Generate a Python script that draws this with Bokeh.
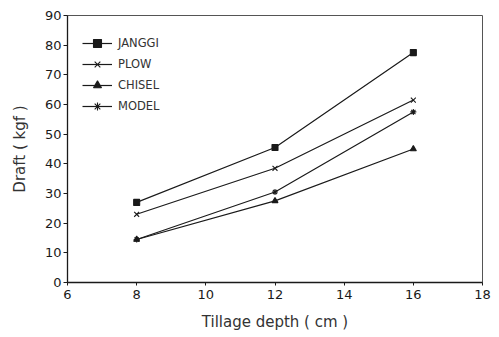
from bokeh.plotting import figure
from bokeh.models import Legend, LegendItem, Range1d, FixedTicker
from bokeh.embed import file_html
from bokeh.resources import INLINE

depth = [8, 12, 16]
janggi = [27, 45.5, 77.5]
plow = [23, 38.5, 61.5]
chisel = [14.5, 27.5, 45]
model = [14.5, 30.5, 57.5]

x_ticks = [6, 8, 10, 12, 14, 16, 18]
y_ticks = [0, 10, 20, 30, 40, 50, 60, 70, 80, 90]

FONT = "DejaVu Sans"
INK = "#1a1a1a"

p = figure(width=499, height=337, output_backend="svg", toolbar_location=None,
           x_range=Range1d(6, 18), y_range=Range1d(0, 90),
           min_border_left=67, min_border_right=17, min_border_top=15, min_border_bottom=55)
p.background_fill_color = "white"
p.border_fill_color = "white"
p.xgrid.visible = False
p.ygrid.visible = False
p.outline_line_color = "#555555"
p.outline_line_width = 1

for ax in (p.xaxis[0], p.yaxis[0]):
    ax.axis_line_color = INK
    ax.axis_line_width = 1.3
    ax.major_tick_line_color = INK
    ax.minor_tick_line_color = None
    ax.major_label_text_font = FONT
    ax.major_label_text_font_size = "13px"
    ax.major_label_text_color = INK
    ax.axis_label_text_font = FONT
    ax.axis_label_text_font_size = "15px"
    ax.axis_label_text_font_style = "normal"
    ax.axis_label_text_color = "#333333"

p.xaxis.ticker = FixedTicker(ticks=x_ticks)
p.yaxis.ticker = FixedTicker(ticks=y_ticks)
p.xaxis.major_tick_out = 3
p.xaxis.major_tick_in = 0
p.yaxis.major_tick_out = 4
p.yaxis.major_tick_in = 0
p.xaxis.major_label_standoff = 4
p.yaxis.major_label_standoff = 2
p.xaxis.axis_label = "Tillage depth ( cm )"
p.yaxis.axis_label = "Draft ( kgf )"
p.xaxis.axis_label_standoff = 11
p.yaxis.axis_label_standoff = 13

series = [
    ("JANGGI", janggi, "square", 6, True),
    ("PLOW", plow, "x", 7, False),
    ("CHISEL", chisel, "triangle", 6, True),
    ("MODEL", model, "asterisk", 6, False),
]

items = []
for name, ys, marker, size, filled in series:
    r1 = p.line(depth, ys, line_color=INK, line_width=1.2)
    r2 = p.scatter(depth, ys, marker=marker, size=size, line_color=INK, line_width=1.1,
                   fill_color=INK if filled else None)
    items.append(LegendItem(label=name, renderers=[r1, r2]))

legend = Legend(items=items, location=(15, 166))
legend.margin = 0
legend.padding = 0
legend.spacing = 1
legend.glyph_width = 30
legend.glyph_height = 20
legend.label_height = 20
legend.label_standoff = 6
legend.label_text_font = FONT
legend.label_text_font_size = "11.5px"
legend.label_text_color = "#333333"
legend.border_line_color = None
legend.background_fill_alpha = 0
p.add_layout(legend)

open("out.html", "w").write(file_html(p, INLINE))
